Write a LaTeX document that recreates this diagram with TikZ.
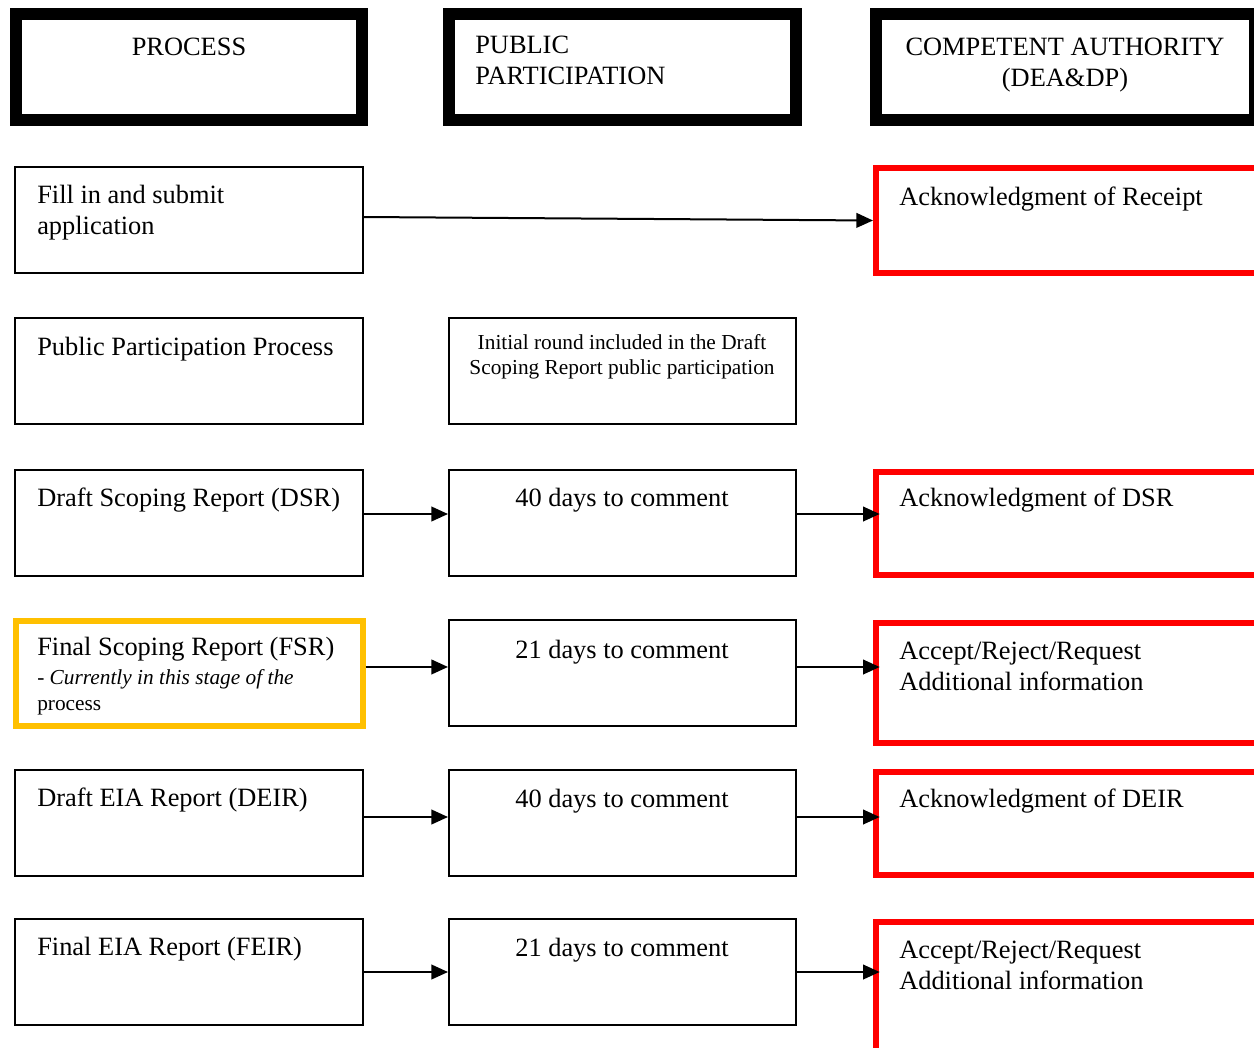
\documentclass[tikz,border=0pt]{standalone}
\usepackage{fontspec}
\setmainfont{Liberation Serif}
\usetikzlibrary{arrows.meta}
\newcommand\fbig{\fontsize{19.8}{23.8}\selectfont}
\newcommand\fsmall{\fontsize{16}{19.3}\selectfont}
\definecolor{fsryellow}{HTML}{FFC000}
\begin{document}
\begin{tikzpicture}[x=0.75pt,y=-0.75pt,
  hdr/.style={draw=black,line width=9pt,minimum height=79.5pt,inner sep=0pt},
  bx/.style={draw=black,line width=1.5pt,minimum width=261pt,minimum height=79.5pt,inner sep=0pt},
  midbx/.style={bx,minimum width=260.25pt},
  redbx/.style={draw=red,line width=4.5pt,minimum width=289.5pt,inner sep=0pt},
  yelbx/.style={draw=fsryellow,line width=4.1pt,minimum width=260.25pt,minimum height=78.75pt,inner sep=0pt},
  txt/.style={inner sep=0pt,font=\fbig},
  smalltxt/.style={inner sep=0pt,font=\fsmall},
  arr/.style={line width=1.5pt,-{Triangle[length=12.5pt,width=11pt]}}]
\useasboundingbox (0,0) rectangle (1254,1047);
\clip (0,0) rectangle (1254,1047);
\fill[white] (0,0) rectangle (1254,1047);

% headers
\node[hdr,minimum width=259.5pt] (hp) at (189,67) {};
\node[hdr,minimum width=260.25pt] (hpp) at (622.5,67) {};
\node[hdr,minimum width=284.25pt] (hca) at (1065.5,67) {};
\node[txt,anchor=base] (thp) at (189,55) {PROCESS};
\node[txt,anchor=base west] (thpp) at (475,53) {\begin{tabular}[t]{@{}l@{}}PUBLIC\\PARTICIPATION\end{tabular}};
\node[txt,anchor=base] (thca) at (1065,55) {\begin{tabular}[t]{@{}c@{}}COMPETENT AUTHORITY\\(DEA\&DP)\end{tabular}};

% left column
\node[bx] (l1) at (189,220) {};
\node[bx] (l2) at (189,371) {};
\node[bx] (l3) at (189,523) {};
\node[yelbx] (l4) at (189.5,673.5) {};
\node[bx] (l5) at (189,823) {};
\node[bx] (l6) at (189,972) {};

% middle column
\node[midbx] (m2) at (622.5,371) {};
\node[midbx] (m3) at (622.5,523) {};
\node[midbx] (m4) at (622.5,673) {};
\node[midbx] (m5) at (622.5,823) {};
\node[midbx] (m6) at (622.5,972) {};

% right column
\node[redbx,minimum height=78.75pt] (r1) at (1069,220.5) {};
\node[redbx,minimum height=77.25pt] (r3) at (1069,523.5) {};
\node[redbx,minimum height=90pt] (r4) at (1069,683) {};
\node[redbx,minimum height=77.25pt] (r5) at (1069,823.5) {};
\node[redbx,minimum height=103.5pt] (r6) at (1069,991) {};

% texts left
\node[txt,anchor=base west] (tl1) at (37,203) {\begin{tabular}[t]{@{}l@{}}Fill in and submit\\application\end{tabular}};
\node[txt,anchor=base west] (tl2) at (37,355) {Public Participation Process};
\node[txt,anchor=base west] (tl3) at (37,506) {Draft Scoping Report (DSR)};
\node[txt,anchor=base west] (tl4) at (37,655) {\vtop{\offinterlineskip\hbox{\smash{Final Scoping Report (FSR)}}\vskip21.75pt\hbox{\smash{\fsmall - \textit{Currently in this stage of the}}}\vskip19.5pt\hbox{\smash{\fsmall process}}}};
\node[txt,anchor=base west] (tl5) at (37,806) {Draft EIA Report (DEIR)};
\node[txt,anchor=base west] (tl6) at (37,955) {Final EIA Report (FEIR)};

% texts middle
\node[smalltxt,anchor=base] (tm2) at (622,349) {\begin{tabular}[t]{@{}c@{}}Initial round included in the Draft\\Scoping Report public participation\end{tabular}};
\node[txt,anchor=base] (tm3) at (622,506) {40 days to comment};
\node[txt,anchor=base] (tm4) at (622,658) {21 days to comment};
\node[txt,anchor=base] (tm5) at (622,807) {40 days to comment};
\node[txt,anchor=base] (tm6) at (622,956) {21 days to comment};

% texts right
\node[txt,anchor=base west] (tr1) at (899,205) {Acknowledgment of Receipt};
\node[txt,anchor=base west] (tr3) at (899,506) {Acknowledgment of DSR};
\node[txt,anchor=base west] (tr4) at (899,659) {\begin{tabular}[t]{@{}l@{}}Accept/Reject/Request\\Additional information\end{tabular}};
\node[txt,anchor=base west] (tr5) at (899,807) {Acknowledgment of DEIR};
\node[txt,anchor=base west] (tr6) at (899,958) {\begin{tabular}[t]{@{}l@{}}Accept/Reject/Request\\Additional information\end{tabular}};

% arrows
\draw[arr] ([yshift=2.25pt]l1.east) -- (r1.west);
\draw[arr] ([yshift=6.75pt]l3.east) -- ([yshift=6.75pt]l3.east -| m3.west);
\draw[arr,shorten >=-5pt] ([yshift=6.75pt]m3.east) -- ([yshift=6.75pt]m3.east -| r3.west);
\draw[arr] ([yshift=4.9pt]l4.east) -- ([yshift=4.9pt]l4.east -| m4.west);
\draw[arr,shorten >=-5pt] ([yshift=4.5pt]m4.east) -- ([yshift=4.5pt]m4.east -| r4.west);
\draw[arr] ([yshift=4.5pt]l5.east) -- ([yshift=4.5pt]l5.east -| m5.west);
\draw[arr,shorten >=-5pt] ([yshift=4.5pt]m5.east) -- ([yshift=4.5pt]m5.east -| r5.west);
\draw[arr] (l6.east) -- (l6.east -| m6.west);
\draw[arr,shorten >=-5pt] (m6.east) -- (m6.east -| r6.west);
\end{tikzpicture}
\end{document}
